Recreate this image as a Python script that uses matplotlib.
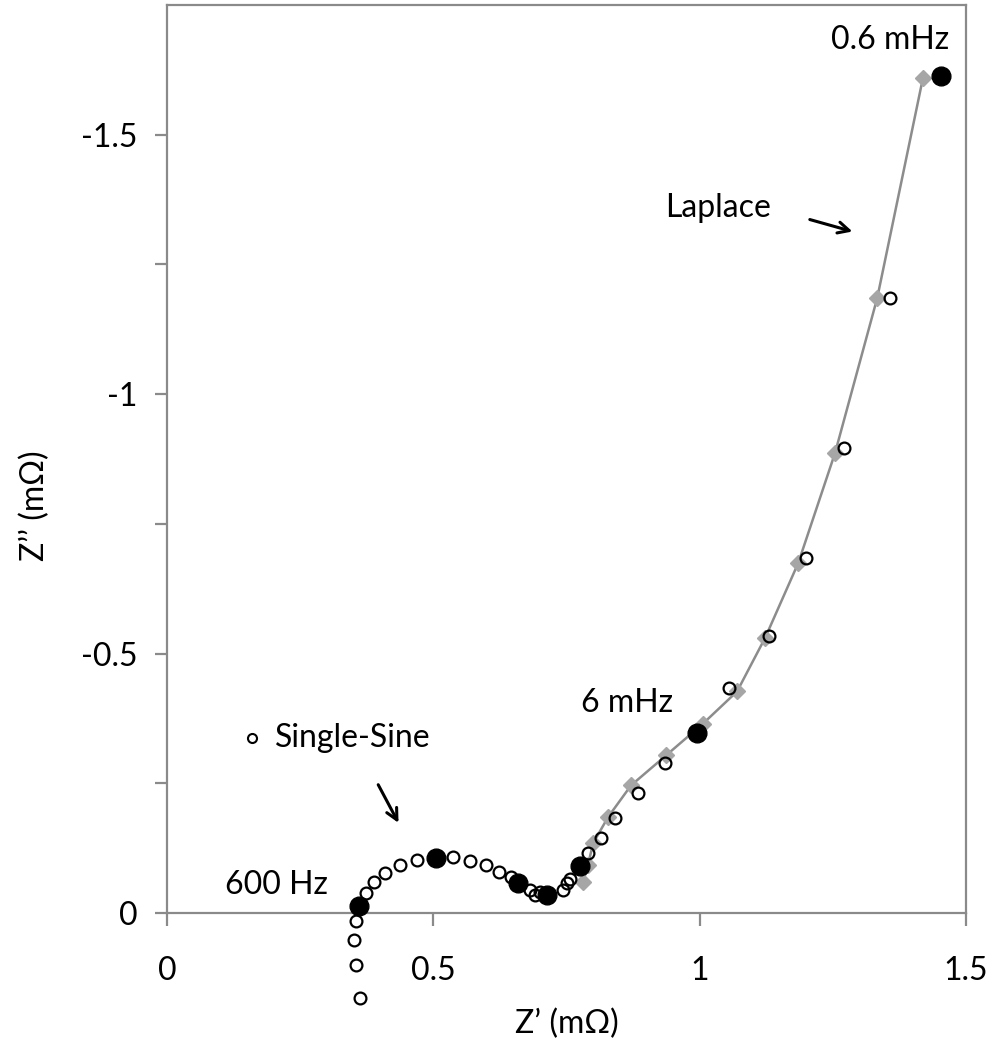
import matplotlib
matplotlib.use("Agg")
import matplotlib.pyplot as plt

plt.rcParams["font.family"] = ["Lato", "DejaVu Sans"]

# Laplace result (grey diamonds joined by a line)
lap_re = [0.781, 0.790, 0.800, 0.828, 0.871, 0.937, 1.006, 1.070, 1.123, 1.185,
          1.254, 1.333, 1.419]
lap_im = [-0.060, -0.092, -0.135, -0.185, -0.246, -0.304, -0.365, -0.427, -0.531,
          -0.675, -0.887, -1.185, -1.610]

# single-sine measurement (open circles)
ss_re = [0.362, 0.355, 0.351, 0.355, 0.374, 0.389, 0.409, 0.437, 0.469, 0.537,
         0.569, 0.599, 0.623, 0.646, 0.681, 0.691, 0.700, 0.743, 0.751, 0.757,
         0.790, 0.815, 0.841, 0.884, 0.935, 1.055, 1.130, 1.200, 1.271, 1.357]
ss_im = [0.163, 0.100, 0.052, 0.015, -0.038, -0.060, -0.077, -0.092, -0.102, -0.108,
         -0.100, -0.092, -0.079, -0.069, -0.044, -0.035, -0.040, -0.044, -0.058, -0.065,
         -0.115, -0.144, -0.183, -0.231, -0.290, -0.433, -0.533, -0.685, -0.896, -1.185]

# highlighted frequencies (filled circles)
dec_re = [0.360, 0.505, 0.659, 0.713, 0.775, 0.995, 1.453]
dec_im = [-0.013, -0.106, -0.058, -0.035, -0.090, -0.346, -1.613]

GREY = "#8c8c8c"
SPINE = "#8a8a8a"
FS = 23

fig = plt.figure(figsize=(9.94, 10.44), dpi=100)
ax = fig.add_axes([0.168, 0.036, 0.804, 0.9592])

ax.plot(lap_re, lap_im, color=GREY, lw=1.8, marker="D", ms=8,
        mfc="#a6a6a6", mec="#a6a6a6", zorder=2)
ax.plot(ss_re, ss_im, ls="none", marker="o", ms=8.5, mfc="none", mec="black",
        mew=1.6, zorder=3, clip_on=False)
ax.plot(dec_re, dec_im, ls="none", marker="o", ms=13.5, mfc="black", mec="black",
        zorder=4, clip_on=False)

ax.set_xlim(0, 1.5)
ax.set_ylim(0.18, -1.75)

for s in ["top", "left", "right", "bottom"]:
    ax.spines[s].set_color(SPINE)
    ax.spines[s].set_linewidth(1.6)
ax.spines["bottom"].set_position(("data", 0))
ax.spines["left"].set_bounds(-1.75, 0)
ax.spines["right"].set_bounds(-1.75, 0)

ax.set_xticks([0, 0.5, 1, 1.5])
ax.set_xticklabels(["0", "0.5", "1", "1.5"])
ax.set_yticks([-1.5, -1, -0.5, 0])
ax.set_yticklabels(["-1.5", "-1", "-0.5", "0"])
ax.set_yticks([-1.25, -0.75, -0.25], minor=True)
ax.tick_params(axis="both", which="both", direction="out", length=9, width=1.6,
               color=SPINE, labelsize=FS)
ax.tick_params(axis="x", pad=22)
ax.tick_params(axis="y", pad=12)

ax.set_xlabel("Z\u2019 (m\u03a9)", fontsize=FS, labelpad=16)
ax.set_ylabel("Z\u2019\u2019 (m\u03a9)", fontsize=FS, labelpad=22)

ax.text(1.357, -1.683, "0.6 mHz", fontsize=FS, ha="center", va="center")
ax.text(1.034, -1.358, "Laplace", fontsize=FS, ha="center", va="center")
ax.text(0.864, -0.404, "6 mHz", fontsize=FS, ha="center", va="center")
ax.text(0.206, -0.054, "600 Hz", fontsize=FS, ha="center", va="center")
ax.text(0.203, -0.338, "Single-Sine", fontsize=FS, ha="left", va="center")
ax.plot([0.160], [-0.338], ls="none", marker="o", ms=6.5, mfc="none", mec="black", mew=1.5)

arrow = dict(arrowstyle="->", color="black", lw=2.2, mutation_scale=20)
ax.annotate("", xy=(1.2916, -1.312), xytext=(1.2015, -1.338), arrowprops=arrow)
ax.annotate("", xy=(0.437, -0.169), xytext=(0.394, -0.252), arrowprops=arrow)

fig.savefig("out.png", dpi=100)
